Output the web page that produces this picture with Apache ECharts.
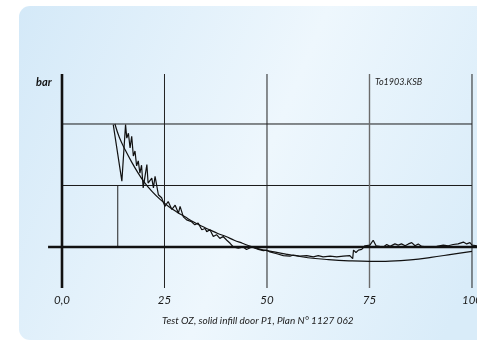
<!DOCTYPE html>
<html>
<head>
<meta charset="utf-8">
<script src="https://cdn.jsdelivr.net/npm/echarts@6/dist/echarts.min.js"></script>
<style>
html,body{margin:0;padding:0;background:#fff;}
#c{width:477px;height:341px;}
</style>
</head>
<body>
<div id="c"></div>
<script>
// ---- data ----
var xTicks = [0, 25, 50, 75, 100];
var xTickLabels = ['0,0', '25', '50', '75', '100'];
var hGridValues = [1, 2];
var markerX = 13.6;          // short vertical marker
var markerRange = [0, 1];

var measured = [
  [12.5,1.99],[14.6,1.07],[15.5,1.99],[15.8,1.77],[16.2,1.85],[16.6,1.61],[17.0,1.80],
  [17.4,1.48],[17.8,1.56],[18.2,1.32],[18.6,1.40],[19.0,1.20],[19.4,1.33],[19.8,0.96],
  [20.7,1.34],[21.0,1.04],[21.9,1.12],[22.3,0.96],[22.7,1.15],[23.5,0.85],[24.3,0.80],
  [25.1,0.66],[25.9,0.74],[26.8,0.61],[27.6,0.68],[28.4,0.55],[28.8,0.66],[29.6,0.49],
  [30.4,0.44],[31.6,0.41],[32.4,0.36],[33.2,0.39],[33.7,0.33],[34.1,0.28],[34.9,0.30],
  [35.3,0.25],[36.1,0.28],[36.9,0.17],[37.7,0.20],[38.5,0.14],[39.3,0.17],[40.2,0.11],
  [41.0,0.06],[41.8,0.00],[43.0,-0.02],[44.2,0.00],[45.0,-0.04],[46.3,0.00],[47.9,-0.04],
  [49.1,-0.06],[49.9,-0.05],[50.7,-0.08],[52.4,-0.11],[54.0,-0.14],[55.6,-0.15],[56.4,-0.13],
  [58.0,-0.15],[59.7,-0.14],[61.3,-0.16],[62.5,-0.14],[63.7,-0.16],[65.4,-0.15],[67.0,-0.16],
  [68.6,-0.15],[70.2,-0.14],[70.9,-0.19],[71.1,-0.05],[71.7,-0.09],[72.3,-0.05],[73.1,-0.04],
  [73.9,0.02],[75.1,0.03],[75.9,0.11],[76.6,0.02],[78.4,0.00],[79.2,0.04],[80.0,0.01],
  [81.2,0.05],[82.0,0.03],[82.8,0.05],[83.7,0.02],[84.5,0.05],[85.3,0.07],[86.1,0.02],
  [86.9,0.05],[87.7,0.01],[89.8,0.00],[91.4,0.01],[93.0,0.03],[94.2,0.02],[95.4,0.04],
  [96.6,0.05],[97.9,0.08],[98.7,0.05],[99.5,0.07],[100.0,0.03],[101.2,0.02]
];

var fitted = [
  [12.9,2.00],[14,1.78],[15.4,1.58],[17,1.38],[18.5,1.21],[20,1.06],[22,0.90],[24,0.77],
  [26,0.66],[28,0.57],[30,0.49],[32,0.41],[34,0.34],[36,0.28],[38,0.22],[40,0.17],
  [42,0.11],[44,0.06],[46,0.01],[48,-0.03],[50,-0.06],[55,-0.12],[60,-0.175],[65,-0.205],
  [70,-0.225],[75,-0.235],[80,-0.23],[85,-0.21],[90,-0.17],[95,-0.12],[100,-0.07]
];

var xMin = -5, xMax = 101.22;
var yMin = -0.667, yMax = 2.813;
var baselineFrom = -3.4;

// ---- chart ----
var chart = echarts.init(document.getElementById('c'), null, {renderer: 'canvas'});
var series = [];
function seg(data, color, width) {
  series.push({type: 'line', data: data, symbol: 'none', silent: true,
    lineStyle: {color: color, width: width}, z: 2, animation: false});
}
hGridValues.forEach(function (v) { seg([[0, v], [100, v]], '#1a1a1a', 1); });
xTicks.forEach(function (t, i) {
  if (t === 0) return;
  seg([[t, yMin], [t, yMax]], t === 75 ? '#6b6b6b' : '#222', t === 75 ? 1.4 : 1);
});
seg([[markerX, markerRange[0]], [markerX, markerRange[1]]], '#222', 1);
seg([[baselineFrom, 0], [xMax, 0]], '#111', 2.6);
seg([[0, yMin], [0, yMax]], '#111', 2.6);

series.push({type: 'line', data: fitted, symbol: 'none', smooth: 0.4, silent: true,
  lineStyle: {color: '#111', width: 1.2}, z: 3, animation: false});
series.push({type: 'line', data: measured, symbol: 'none', silent: true,
  lineStyle: {color: '#111', width: 1.2}, z: 4, animation: false});

var font = 'Lato, "Open Sans", sans-serif';
chart.setOption({
  animation: false,
  graphic: [
    {type: 'rect', shape: {x: 19, y: 6, width: 480, height: 334, r: 11}, z: -10,
      style: {fill: new echarts.graphic.LinearGradient(0, 0, 1, 0.6, [
        {offset: 0, color: '#d4e9f8'}, {offset: 0.55, color: '#eef7fd'}, {offset: 1, color: '#d9ecf9'}])}},
    {type: 'text', left: 36, top: 77, z: 10,
      style: {text: 'bar', font: 'italic bold 11px ' + font, fill: '#111'}},
    {type: 'text', left: 375, top: 78, z: 10,
      style: {text: 'To1903.KSB', font: 'italic 9px ' + font, fill: '#222'}},
    {type: 'text', left: 162, top: 316, z: 10,
      style: {text: 'Test OZ, solid infill door P1, Plan N° 1127 062', font: 'italic 10px ' + font, fill: '#222'}}
  ],
  grid: {left: 41.5, right: 0, top: 74, bottom: 53, containLabel: false, outerBoundsMode: 'none'},
  xAxis: {
    type: 'value', min: xMin, max: xMax,
    axisLine: {show: false}, axisTick: {show: false}, splitLine: {show: false},
    axisLabel: {
      customValues: xTicks, margin: 6, hideOverlap: false,
      formatter: function (v) { var i = xTicks.indexOf(v); return i >= 0 ? xTickLabels[i] : ''; },
      fontFamily: font, fontStyle: 'italic', fontSize: 11.5, color: '#1a1a1a'
    }
  },
  yAxis: {
    type: 'value', min: yMin, max: yMax,
    axisLine: {show: false}, axisTick: {show: false}, splitLine: {show: false}, axisLabel: {show: false}
  },
  series: series
});
</script>
</body>
</html>
